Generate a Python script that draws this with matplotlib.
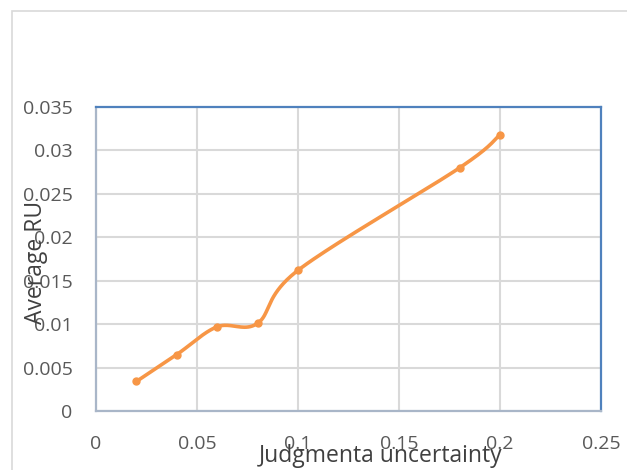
import numpy as np
import matplotlib
matplotlib.use("Agg")
import matplotlib.pyplot as plt
from matplotlib.patches import Rectangle

# Data
x_vals = [0.02, 0.04, 0.06, 0.08, 0.10, 0.18, 0.20]
y_vals = [0.0034, 0.0065, 0.0097, 0.0101, 0.0162, 0.0280, 0.0318]
x_ticks = [0, 0.05, 0.1, 0.15, 0.2, 0.25]
x_tick_labels = ["0", "0.05", "0.1", "0.15", "0.2", "0.25"]
y_ticks = [0, 0.005, 0.01, 0.015, 0.02, 0.025, 0.03, 0.035]
y_tick_labels = ["0", "0.005", "0.01", "0.015", "0.02", "0.025", "0.03", "0.035"]
x_label = "Judgmenta uncertainty"
y_label = "Average RU"


def smooth(xs, ys, n=40):
    # Excel-style smoothed line: Catmull-Rom Bezier segments
    xs = np.asarray(xs, float)
    ys = np.asarray(ys, float)
    px = np.concatenate([[xs[0]], xs, [xs[-1]]])
    py = np.concatenate([[ys[0]], ys, [ys[-1]]])
    ox, oy = [], []
    t = np.linspace(0, 1, n)
    for i in range(1, len(px) - 2):
        p0 = np.array([px[i], py[i]])
        p3 = np.array([px[i + 1], py[i + 1]])
        c1 = p0 + (np.array([px[i + 1], py[i + 1]]) - np.array([px[i - 1], py[i - 1]])) / 6
        c2 = p3 - (np.array([px[i + 2], py[i + 2]]) - np.array([px[i], py[i]])) / 6
        b = ((1 - t) ** 3)[:, None] * p0 + (3 * (1 - t) ** 2 * t)[:, None] * c1 \
            + (3 * (1 - t) * t ** 2)[:, None] * c2 + (t ** 3)[:, None] * p3
        ox.extend(b[:, 0])
        oy.extend(b[:, 1])
    return ox, oy


plt.rcParams['font.family'] = ['Open Sans', 'DejaVu Sans']

W, H = 627, 470
fig = plt.figure(figsize=(W / 100, H / 100), dpi=100)
fig.patch.set_facecolor("white")

# chart area border (cut off at right/bottom)
fig.add_artist(Rectangle((12 / W, -0.1), 1.2, (H - 11) / H + 0.1, transform=fig.transFigure,
                         fill=False, edgecolor="#D9D9D9", linewidth=1.2))

left, right, top, bottom = 96, 601, 107, 411
ax = fig.add_axes([left / W, 1 - bottom / H, (right - left) / W, (bottom - top) / H])
ax.set_xlim(0, 0.25)
ax.set_ylim(0, 0.035)
ax.set_xticks(x_ticks)
ax.set_xticklabels(x_tick_labels)
ax.set_yticks(y_ticks)
ax.set_yticklabels(y_tick_labels)
ax.grid(True, color="#D9D9D9", linewidth=1.5)
ax.set_axisbelow(True)
ax.tick_params(length=0, labelsize=14, colors="#595959")
ax.tick_params(axis='x', pad=17)
ax.tick_params(axis='y', pad=17)
for s in ["top", "right"]:
    ax.spines[s].set_color("#4F81BD")
    ax.spines[s].set_linewidth(1.6)
for s in ["left", "bottom"]:
    ax.spines[s].set_color("#A9B6C8")
    ax.spines[s].set_linewidth(1.6)

sx, sy = smooth(x_vals, y_vals)
ax.plot(sx, sy, color="#F79646", linewidth=2.6, solid_capstyle="round", zorder=3)
ax.plot(x_vals, y_vals, "o", color="#F79646", markersize=5, zorder=4)

fig.text(36 / W, 1 - 262 / H, y_label, rotation=90, ha="center", va="center",
         fontsize=16.5, color="#404040")
fig.text(381 / W, 1 - 456 / H, x_label, ha="center", va="center",
         fontsize=16.5, color="#404040")

fig.savefig("out.png", dpi=100)
